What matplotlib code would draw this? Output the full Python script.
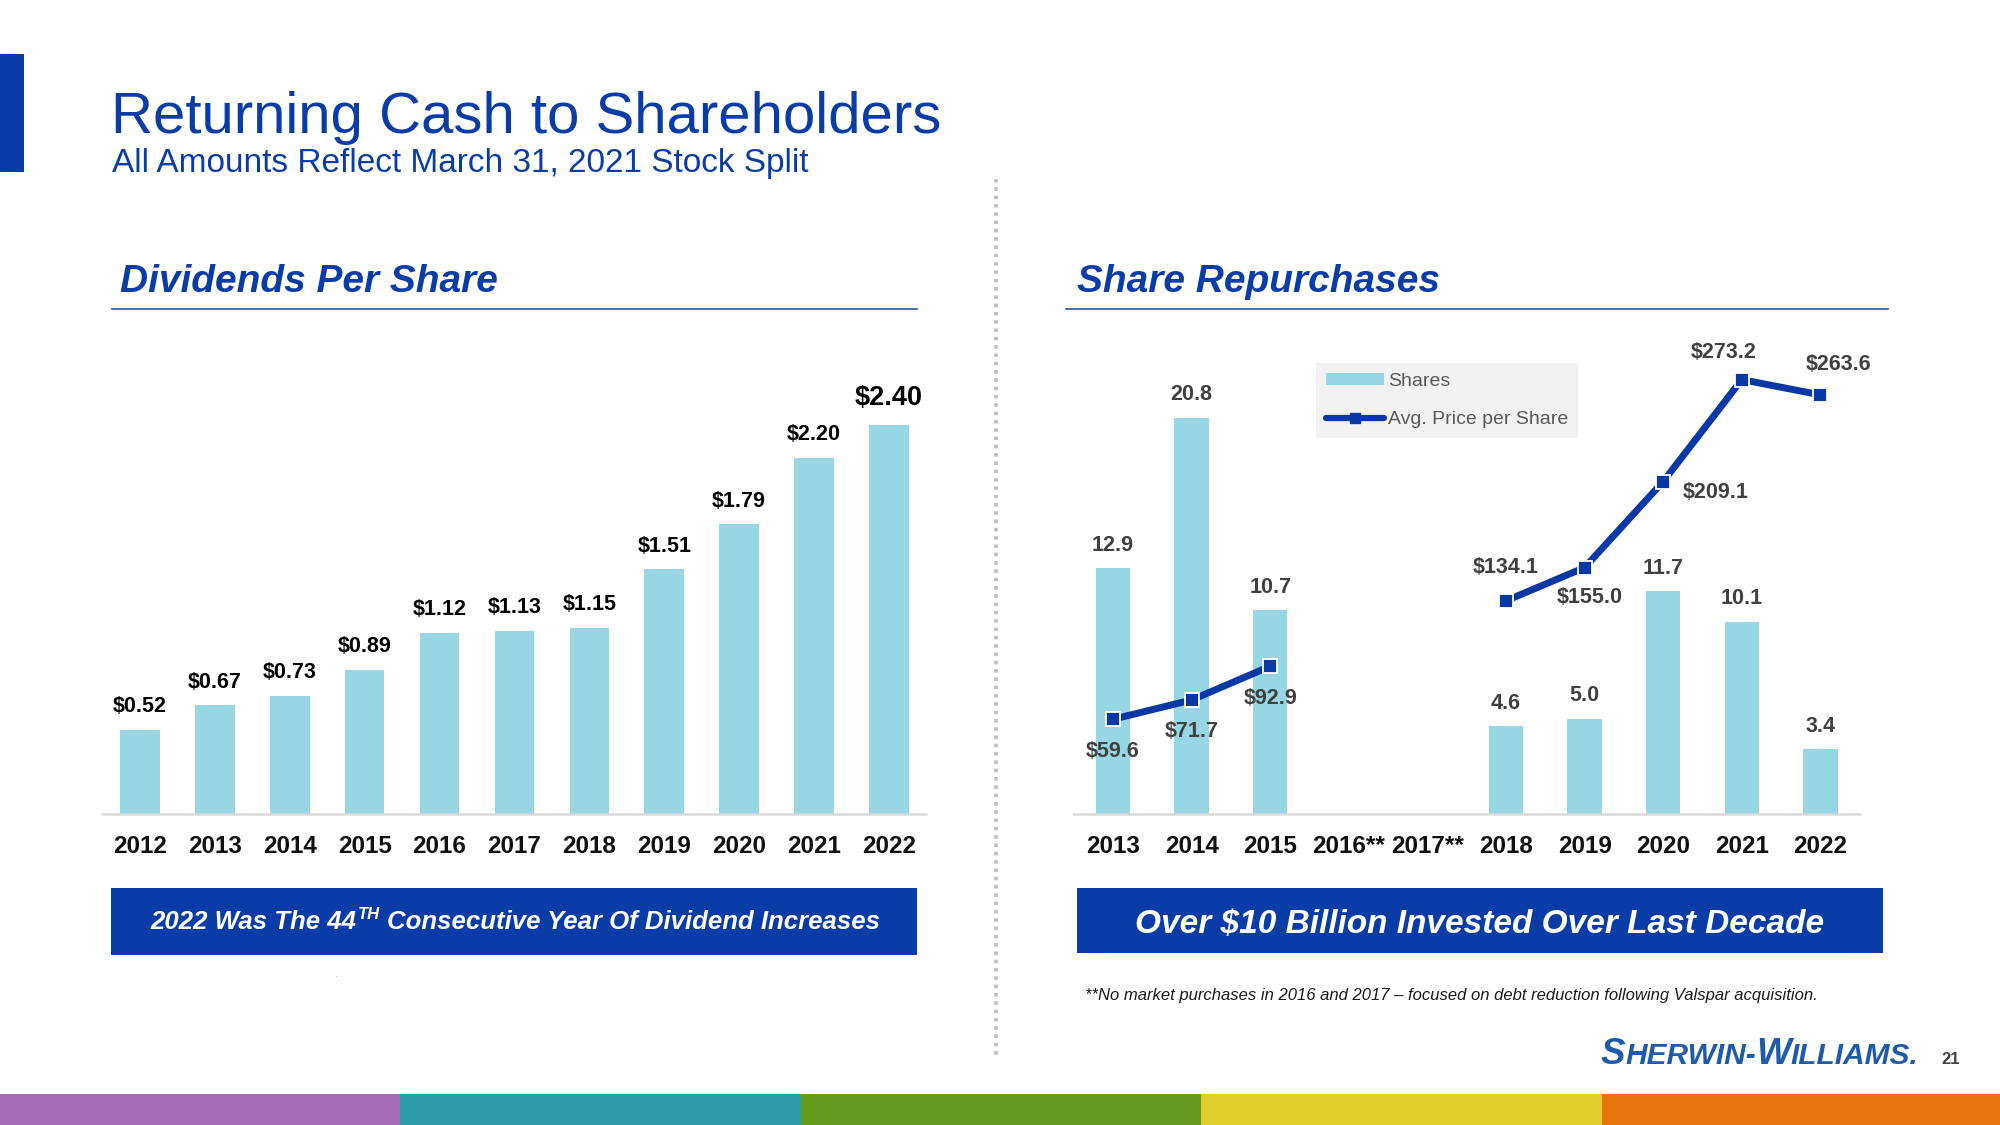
import numpy as np
import matplotlib
matplotlib.use("Agg")
import matplotlib.pyplot as plt
from matplotlib.patches import Rectangle, Patch
from matplotlib.lines import Line2D

plt.rcParams['font.family'] = ['Liberation Sans', 'DejaVu Sans']

# ---------------- data ----------------
div_years = ['2012', '2013', '2014', '2015', '2016', '2017', '2018', '2019', '2020', '2021', '2022']
div_values = [0.52, 0.67, 0.73, 0.89, 1.12, 1.13, 1.15, 1.51, 1.79, 2.20, 2.40]
div_labels = ['$0.52', '$0.67', '$0.73', '$0.89', '$1.12', '$1.13', '$1.15', '$1.51', '$1.79', '$2.20', '$2.40']

rep_years = ['2013', '2014', '2015', '2016**', '2017**', '2018', '2019', '2020', '2021', '2022']
rep_shares = [12.9, 20.8, 10.7, np.nan, np.nan, 4.6, 5.0, 11.7, 10.1, 3.4]
rep_price = [59.6, 71.7, 92.9, np.nan, np.nan, 134.1, 155.0, 209.1, 273.2, 263.6]

title = "Returning Cash to Shareholders"
subtitle = "All Amounts Reflect March 31, 2021 Stock Split"
left_header = "Dividends Per Share"
right_header = "Share Repurchases"
right_banner = "Over $10 Billion Invested Over Last Decade"
footnote = "**No market purchases in 2016 and 2017 \u2013 focused on debt reduction following Valspar acquisition."

# ---------------- style ----------------
W, H = 2000, 1125
BLUE = '#0A3CA8'
BAR = '#97D7E3'
LINE_BLUE = '#0838A6'
DARK = '#404040'
strip_colors = ['#A66BB5', '#2C9BA9', '#65991E', '#E0CC2B', '#E8750A']
strip_edges = [0, 400, 801, 1201, 1602, 2000]
# label offsets for the price line, in pixels (dx, dy)
price_offsets = [(0, -32), (0, -32), (0, -32), (0, 0), (0, 0),
                 (0, 33), (5, -30), (52, -11), (-18, 27), (18, 30)]

fig = plt.figure(figsize=(W / 100, H / 100), dpi=100)
fig.patch.set_facecolor('white')

ov = fig.add_axes([0, 0, 1, 1], zorder=0)
ov.set_xlim(0, W)
ov.set_ylim(H, 0)
ov.axis('off')


def fig_rect(x0, y0, x1, y1):
    return [x0 / W, 1 - y1 / H, (x1 - x0) / W, (y1 - y0) / H]


# ---------- decorations ----------
ov.add_patch(Rectangle((0, 54), 24, 118, color=BLUE, lw=0))
ov.text(111, 133, title, fontsize=41.9, color=BLUE, va='baseline', ha='left')
ov.text(112, 172, subtitle, fontsize=24, color=BLUE, va='baseline', ha='left')
ov.text(120, 292, left_header, fontsize=28, color=BLUE, weight='bold', style='italic',
        va='baseline', ha='left')
ov.text(1077, 292, right_header, fontsize=28, color=BLUE, weight='bold', style='italic',
        va='baseline', ha='left')
ov.plot([112, 917], [309, 309], color='#2F5597', lw=1.2)
ov.plot([1066, 1888], [309, 309], color='#2F5597', lw=1.2)

# divider
ov.plot([996, 996], [179, 1059], color='#BDBDBD', lw=2.6, linestyle=(0, (1, 1.3)),
        dash_capstyle='butt')

# banners
ov.add_patch(Rectangle((111, 888), 806, 67, color=BLUE, lw=0))
ov.add_patch(Rectangle((1077, 888), 806, 65, color=BLUE, lw=0))

renderer = fig.canvas.get_renderer()


def draw_runs(runs, x_center=None, x_left=None, y=0, color='white'):
    arts = []
    widths = []
    for txt, fs, rise, gap in runs:
        t = ov.text(0, y - rise, txt, fontsize=fs, weight='bold', style='italic',
                    color=color, va='baseline', ha='left')
        arts.append((t, gap))
        widths.append(t.get_window_extent(renderer).width + gap)
    total = sum(widths)
    x = x_left if x_left is not None else x_center - total / 2
    for (t, gap), w in zip(arts, widths):
        t.set_x(x + gap)
        x += w
    return total


draw_runs([("2022 Was The 44", 18.5, 0, 0),
           ("TH", 12, 10, 1),
           ("Consecutive Year Of Dividend Increases", 18.5, 0, 7)],
          x_center=515, y=929)
ov.text(1480, 933, right_banner, fontsize=24, weight='bold', style='italic', color='white',
        ha='center', va='baseline')

ov.text(1085, 1000, footnote, fontsize=12, style='italic', color='#1a1a1a',
        ha='left', va='baseline')
ov.text(335, 977, '.', fontsize=7, color='#888888', ha='center', va='baseline')

# logo (small caps)
draw_runs([("S", 26.5, 0, 0), ("HERWIN-", 21.5, 0, 0), ("W", 26.5, 0, 0), ("ILLIAMS.", 21.5, 0, 0)],
          x_left=1601, y=1064, color='#1E5BAA')
ov.text(1941, 1064, '21', fontsize=12, weight='bold', color=DARK, ha='left', va='baseline')

# bottom strip
for i, c in enumerate(strip_colors):
    ov.add_patch(Rectangle((strip_edges[i], 1094), strip_edges[i + 1] - strip_edges[i], 31,
                           color=c, lw=0))

# ---------- left chart ----------
axL = fig.add_axes(fig_rect(102.5, 340, 926.4, 814), zorder=2)
axL.set_facecolor('none')
xL = np.arange(len(div_years))
axL.bar(xL, div_values, width=0.53, color=BAR, zorder=2)
axL.set_xlim(-0.5, len(div_years) - 0.5)
axL.set_ylim(0, 474 / 162)
for s in ['top', 'right', 'left']:
    axL.spines[s].set_visible(False)
axL.spines['bottom'].set_color('#D9D9D9')
axL.spines['bottom'].set_linewidth(1.8)
axL.set_yticks([])
axL.set_xticks(xL)
axL.set_xticklabels(div_years, fontsize=17.5, weight='bold', color='#111111')
axL.tick_params(axis='x', length=0, pad=15)
for i, (v, lab) in enumerate(zip(div_values, div_labels)):
    big = (i == len(div_values) - 1)
    axL.annotate(lab, (xL[i], v), xytext=(0, 27 if big else 23), textcoords='offset pixels',
                 ha='center', va='center', fontsize=19.5 if big else 15.5,
                 weight='bold', color='#000000', annotation_clip=False)

# ---------- right chart ----------
axR = fig.add_axes(fig_rect(1073.7, 340, 1859.7, 814), zorder=2)
axR.set_facecolor('none')
xR = np.arange(len(rep_years))
axR.bar(xR, rep_shares, width=0.44, color=BAR, zorder=2)
axR.set_xlim(-0.5, len(rep_years) - 0.5)
axR.set_ylim(0, 474 / 19.05)
for s in ['top', 'right', 'left']:
    axR.spines[s].set_visible(False)
axR.spines['bottom'].set_color('#D9D9D9')
axR.spines['bottom'].set_linewidth(1.8)
axR.set_yticks([])
axR.set_xticks(xR)
axR.set_xticklabels(rep_years, fontsize=17.5, weight='bold', color='#111111')
axR.tick_params(axis='x', length=0, pad=15)
for i, v in enumerate(rep_shares):
    if np.isnan(v):
        continue
    axR.annotate(f"{v:.1f}", (xR[i], v), xytext=(0, 23), textcoords='offset pixels',
                 ha='center', va='center', fontsize=15.5, weight='bold', color=DARK,
                 annotation_clip=False)

axR2 = axR.twinx()
axR2.set_ylim(0, 474 / 1.59)
for s in axR2.spines.values():
    s.set_visible(False)
axR2.set_yticks([])
axR2.plot(xR, rep_price, color=LINE_BLUE, lw=5, marker='s', markersize=9.5,
          markerfacecolor=LINE_BLUE, markeredgecolor='white', markeredgewidth=1.3,
          solid_capstyle='round', zorder=3)
for i, v in enumerate(rep_price):
    if np.isnan(v):
        continue
    dx, dy = price_offsets[i]
    axR2.annotate(f"${v:.1f}", (xR[i], v), xytext=(dx, dy), textcoords='offset pixels',
                  ha='center', va='center', fontsize=15.5, weight='bold', color=DARK,
                  annotation_clip=False)

handles = [Patch(facecolor=BAR, edgecolor='none', label='Shares'),
           Line2D([], [], color=LINE_BLUE, lw=4.5, marker='s', markersize=7,
                  solid_capstyle='round', label='Avg. Price per Share')]
leg = axR2.legend(handles=handles, loc='upper left',
                  bbox_to_anchor=(1316 / W, 1 - 363 / H), bbox_transform=fig.transFigure,
                  borderaxespad=0, frameon=True, fancybox=False, facecolor='#F2F2F2',
                  edgecolor='#F2F2F2', framealpha=1, fontsize=14, labelcolor='#595959',
                  handlelength=3.0, handletextpad=0.2, borderpad=0.5, labelspacing=1.1,
                  handleheight=0.6)
leg.get_frame().set_linewidth(0)

fig.savefig('out.png', dpi=100, facecolor='white')
